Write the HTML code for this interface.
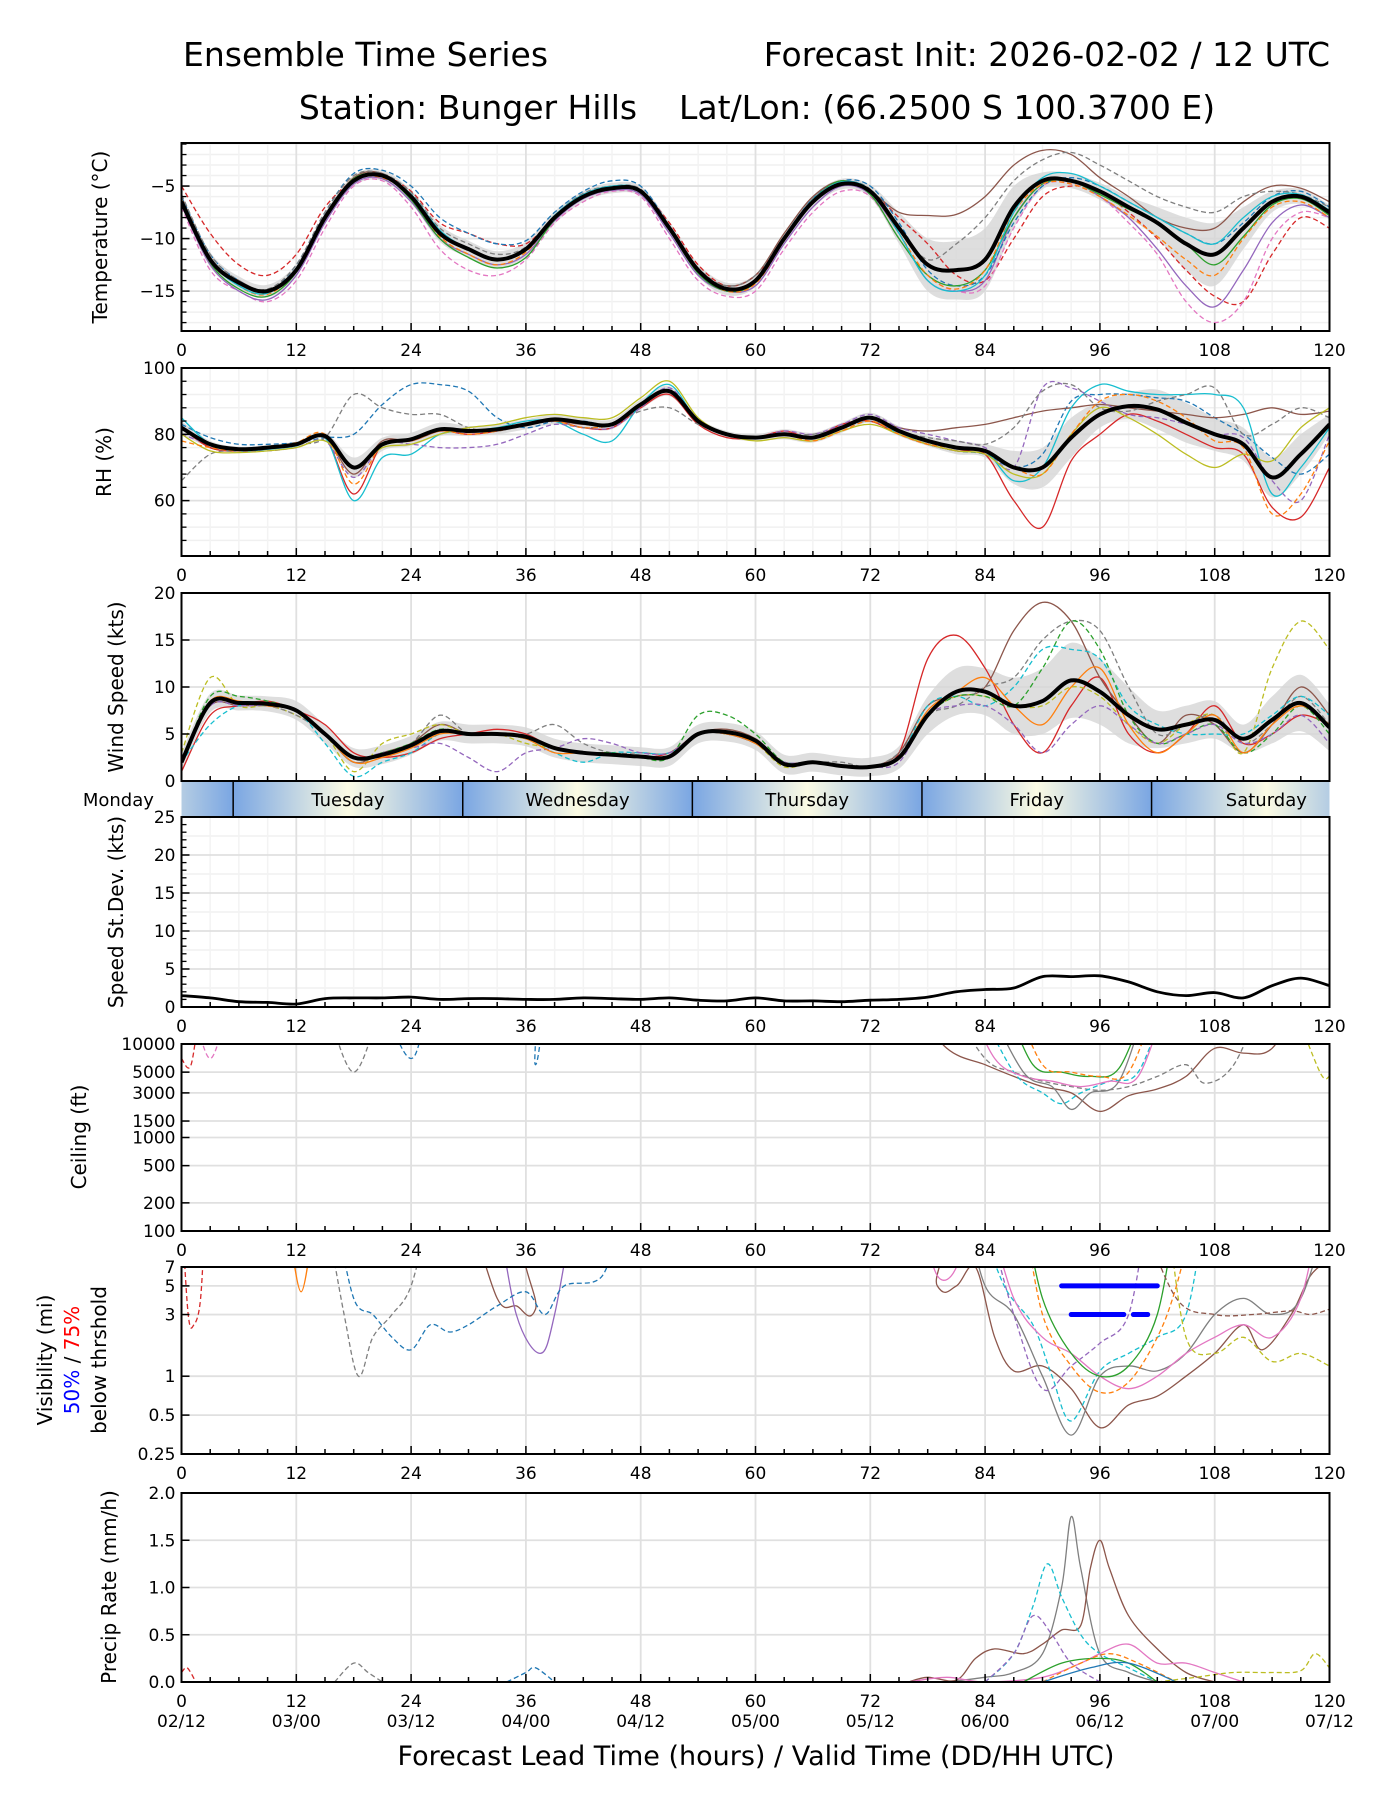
<!DOCTYPE html>
<html><head><meta charset="utf-8"><title>Ensemble Time Series</title>
<style>
html,body{margin:0;padding:0;background:#fff;}
svg{display:block;font-family:"DejaVu Sans","Liberation Sans",sans-serif;}
</style></head>
<body>
<svg id="chart" width="1400" height="1800" viewBox="0 0 1400 1800" xmlns="http://www.w3.org/2000/svg">
<defs>
<linearGradient id="dayGrad" gradientUnits="userSpaceOnUse" x1="0" y1="0" x2="1400" y2="0"></linearGradient>
</defs>
<text x="183" y="66" font-size="33">Ensemble Time Series</text>
<text x="1330" y="66" font-size="33" text-anchor="end">Forecast Init: 2026-02-02 / 12 UTC</text>
<text x="757" y="119" font-size="33" text-anchor="middle" xml:space="preserve">Station: Bunger Hills    Lat/Lon: (66.2500 S 100.3700 E)</text>
<text x="756" y="1765" font-size="27" text-anchor="middle">Forecast Lead Time (hours) / Valid Time (DD/HH UTC)</text>
<g id="layer"></g>
</svg>
<script>
// ---------- Data ----------
const hours3 = [0,3,6,9,12,15,18,21,24,27,30,33,36,39,42,45,48,51,54,57,60,63,66,69,72,75,78,81,84,87,90,93,96,99,102,105,108,111,114,117,120];
const xTicks = [0,12,24,36,48,60,72,84,96,108,120];
const dateLabels = ["02/12","03/00","03/12","04/00","04/12","05/00","05/12","06/00","06/12","07/00","07/12"];
const dayNames = ["Monday","Tuesday","Wednesday","Thursday","Friday","Saturday"];
const dayNoonHours = [-6.6,17.4,41.4,65.4,89.4,113.4];
const dayBoundaryHours = [5.4,29.4,53.4,77.4,101.4];

const tempMean = [-6.5,-12,-14.2,-15,-13,-8,-4.5,-4,-6,-9.5,-11,-12,-11,-8,-6,-5.2,-5.5,-9,-13,-14.8,-14,-10,-6.5,-4.8,-5.5,-9,-12.5,-13,-12,-7,-4.5,-4.5,-5.5,-7,-8.5,-10.5,-11.5,-9,-6.5,-6,-7.5];
const tempSpread = [0.5,0.7,0.6,0.6,0.6,0.5,0.5,0.5,0.6,0.8,0.8,0.8,0.7,0.6,0.5,0.5,0.5,0.6,0.6,0.6,0.6,0.6,0.6,0.5,0.6,1.5,2.5,2.8,3,2,0.8,0.7,0.8,1,1.5,2.5,3,2,1,0.7,0.7];
const tempM1 = [-5,-9.5,-12.5,-13.5,-11.5,-7,-4.5,-4,-5.5,-8.5,-9.5,-10.5,-10.5,-8,-6,-5,-5.5,-8.5,-12.5,-14.5,-13.5,-10,-6.5,-4.8,-5.5,-8,-10.5,-13.5,-14,-10,-6,-5,-5.5,-7.5,-10,-13,-15.5,-16,-11.5,-8,-9];
const tempM2 = [-6,-12,-14,-15,-13,-8,-4.2,-3.8,-6,-9.5,-11,-12,-11,-7.8,-5.8,-5,-5.5,-9,-13,-14.5,-13.5,-9.5,-6,-4.5,-5.5,-7.5,-7.8,-7.7,-6,-3,-1.6,-2,-4.2,-6,-8,-9,-9,-6.5,-5,-5.2,-6.5];
const tempM3 = [-7,-13,-15,-16,-14,-9,-5,-4.5,-7,-11,-13,-13.5,-12,-8.5,-6.5,-5.5,-6,-10,-14,-15.5,-15,-11,-7.5,-5.5,-6,-10,-13.5,-15,-14.5,-9,-5,-4.8,-6,-8.5,-11.5,-16,-18,-16,-10,-7.5,-8];
const tempM4 = [-6.8,-12.5,-15,-15.8,-13.5,-8.5,-4.8,-4.3,-6.5,-10,-11.5,-12.5,-11.5,-8.3,-6.2,-5.4,-5.8,-9.5,-13.5,-15,-14.5,-10.5,-7,-5,-5.8,-9.5,-14,-15,-14,-8,-4.8,-4.5,-6,-8,-11,-14.5,-16.5,-13,-8.5,-6.8,-8];
const tempM5 = [-6,-11.5,-14,-15,-12.5,-7.5,-3.8,-3.5,-5,-8,-9.5,-10.5,-10.2,-7.5,-5.5,-4.5,-5,-8.8,-13,-15,-14,-9.8,-6.2,-4.5,-5,-8.5,-13,-14.5,-13.5,-8.5,-5,-4.2,-5,-6.5,-8,-9.5,-10.5,-8.5,-6,-5.5,-7];
const tempM6 = [-6.5,-12.3,-14.8,-15.5,-13.2,-8,-4.3,-4,-6.3,-10,-11.8,-12.8,-11.8,-8.2,-6,-5.3,-5.6,-9.2,-13.3,-15,-14.2,-10,-6.3,-4.5,-5.8,-10,-13.5,-14.5,-13,-8,-4.8,-4.6,-5.8,-7.2,-8.5,-10.5,-12.5,-9.8,-6.8,-6.2,-7.8];
const tempM7 = [-5.8,-11.5,-14,-14.8,-12.5,-7.5,-4,-3.8,-5.6,-9,-10.5,-11.5,-10.8,-7.8,-5.7,-5,-5.3,-8.8,-12.8,-14.5,-13.5,-9.8,-6.2,-4.6,-5.3,-9,-12,-10.5,-8,-4.5,-2.5,-1.8,-3,-4.5,-6,-7,-7.5,-6,-5.5,-5.8,-7];
const tempM8 = [-6.2,-11.8,-14.5,-15.3,-13,-8,-4.5,-4.2,-6,-9.8,-11.5,-12.5,-11.3,-8,-6,-5.3,-5.5,-9,-13,-15,-14.3,-10.2,-6.5,-4.7,-5.5,-9.5,-13.5,-14.8,-13,-7.5,-4.8,-4.8,-6,-7.8,-9.8,-12,-13.5,-10,-7,-6.5,-8];
const tempM9 = [-6.3,-12,-14.5,-15.2,-12.8,-7.8,-4.4,-4,-5.8,-9.2,-11,-12,-11,-7.8,-5.8,-5,-5.4,-8.9,-13,-14.8,-13.9,-9.8,-6.3,-4.6,-5.4,-9.5,-14,-15,-13.5,-7.5,-4.2,-3.8,-5,-6.5,-8,-9.5,-10.5,-8,-6,-5.8,-7.3];

const rhMean = [82,77,75.5,76,77,79.5,70,77,78.5,81.5,81,81.5,83,84.5,83.5,83,89,93,84,80,79,80,79,82,85,81,78,76,75,70,70,79,86,88.5,87.5,83.5,80,77,67,74,83];
const rhSpread = [2,1,0.8,0.8,0.8,1,3,2,2,2,1.5,1.5,1.5,1.5,1.5,1.5,1.5,1.5,1,1,1,1.5,1.5,1.5,1.5,1.5,1.5,2,2,5,6,6,4,4,6,6,5,5,6,6,3];
const rhM1 = [83,79,77,77,77.5,79,80,89,95,95,93,85,82,84,84,83,89,93,84,80,79,80,79,82,84,80,77,75,74,70,74,90,92,92,91,90,85,80,73,68,74];
const rhM2 = [82,76,75,76,77,79,68,78,78,81,81,81,83,84,83,83,89,93,84,80,79,80,79,82,85,82,81,82,83,85,87,88,89,88,87,86,85,86,88,86,87];
const rhM3 = [82,76,75,76,77,79,62,77,78,81,80,81,83,84,82,82,88,92,83,79,79,81,79,83,84,80,77,75,74,60,52,72,80,86,84,80,76,74,58,55,70];
const rhM4 = [85,77,75,75.5,76.5,79,60,73,74,80,81,82,84,84,80,78,89,95,84,80,79,80,79,82,85,80,78,76,75,66,70,88,95,93,92,92,92,88,62,70,82];
const rhM5 = [80,77,75,75,76,78,67,77,77,76,76,77,80,83,82,82,88,94,84,80,79,81,80,83,86,82,80,78,76,70,94,94,90,86,85,83,80,79,66,60,80];
const rhM6 = [66,74,75,76,77,79,92,88,86,86,82,81,83,84,82,83,87,88,83,80,79,80,80,82,84,81,79,78,77,82,93,95,88,87,90,92,94,80,83,88,85];
const rhM7 = [80,75,74.5,75,76,78,70,76,77,80,82,83,85,86,85,85,91,96,85,80,78,79,78,81,83,80,77,75,74,68,68,80,88,85,80,74,70,74,72,82,88];
const rhM8 = [78,76,75,76,77.5,80,65,77,78,81,80,81,83,84,82,83,89,93,84,80,79,80,78,81,84,80,77,76,75,70,68,80,90,92,90,85,78,76,56,62,78];

const windMean = [2,8.3,8.3,8.2,7.5,5,2.5,2.8,3.8,5.3,5,5,4.7,3.5,3,2.8,2.6,2.6,5,5.2,4.3,1.8,2,1.6,1.5,2.5,7,9.5,9.5,8,8.5,10.7,9.5,7,5.5,6,6.5,4.5,6.5,8.3,5.7];
const windSpread = [1,1,0.8,0.8,1,1,1,1,1,1,1,1,1,1,1,1,1,1,1,1,1,1,1,1,1,1.2,2,2.5,2.5,3,3.5,4,3.5,3,2,2,2,1.5,2.5,3,2.5];
const windM1 = [1,7,8,8.5,7.5,6,3,2.5,3,4.5,5,5.5,5,3.5,3,3,2.5,3,5,5,4,2,2,1.5,1.5,3,13,15.5,12,6,3,8,11,5,3,5,8,4,5,7,6];
const windM2 = [2,8,8,8,7.5,5,2,3,4,6,5,5,4.5,3.5,3,3,2.5,2.5,5,5.5,4.5,2,2,1.5,1.5,3,8,9,10,16,19,17,11,7,4,7,6,3,6,10,7];
const windM3 = [3,11,8,8,7,5,1,4,5,6,5,5,4,3.5,3,3,2.5,2.5,5,5,4,1.5,2,1.5,1.5,2.5,7,9,9,8,8,10,9,6,4,6,7,3,12,17,14];
const windM4 = [2,8,8,8,7,5,2,3,4,7,5,5,5,6,4,3,3,3,5,5,4,2,2,2,1.5,3,7,8,10,11,15,17,16,10,5,6,7,4,6,9,6];
const windM5 = [2,6,8,8,7.5,4,0.5,2,3,5,5,5,4.5,3,2,3,3,3,5,5,4,2,2,1.5,1.5,2.5,8,9,8,10,14,14,13,8,6,5,5,5,7,9,7];
const windM6 = [2,9,9,8.5,7.5,5,2.5,3,4,5.5,5,5,4.5,3.5,3,3,2.5,2.5,7,7,5,2,2,1.5,1.5,2.5,7,9,9,8,12,17,14,7,4,5,6,3,5,8,5];
const windM7 = [2,8,8,8,7.5,5,2.5,3,3.5,4,2.5,1,3,3.5,4.5,4,3,3,5,5,4,2,2,1.5,1.5,2,7,8,8,6,3,6,8,6,4,5,6,4,5,7,4];
const windM8 = [2,8.5,8.5,8,7.5,5,2,2.5,3.5,5,5,5,4.5,3,3,2.8,2.5,2.5,5,5,4,1.8,2,1.5,1.5,2.5,7.5,9.5,11,8,6,10,12,6,3,5,7,3,6,8,6];

const stdevMean = [1.5,1.2,0.7,0.6,0.4,1.1,1.2,1.2,1.3,1.0,1.1,1.1,1.0,1.0,1.2,1.1,1.0,1.2,0.9,0.8,1.2,0.8,0.8,0.7,0.9,1.0,1.3,2.0,2.3,2.5,4.0,4.0,4.1,3.3,2.0,1.5,1.9,1.2,2.8,3.8,2.8];

// ceiling members (hours / feet); 30000 = above chart top
const ceilH1=[76,80,84,87,90,93,96,99,102,105,108,111,114,117], ceilV1=[30000,9000,6000,4500,3500,3000,1900,2800,3300,4500,9000,8000,9000,30000];
const ceilH2=[15,18,21], ceilV2=[30000,5000,30000];
const ceilH3=[80,84,87,90,93,96,99,102,105,107,110,113], ceilV3=[30000,7000,5000,4000,3500,3200,3500,4500,6000,3800,6000,30000];
const ceilH4=[83,87,90,92,94,97,100,103], ceilV4=[30000,5000,3000,2300,3000,4000,5000,30000];
const ceilH5=[86,89,92,95,98,101], ceilV5=[30000,6000,5000,4500,5500,30000];
const ceilH6=[82,85,88,91,94,97,100,103], ceilV6=[30000,7000,4500,4000,3500,4000,4500,30000];
const ceilH7=[21,24,27,36,37,38], ceilV7=[30000,7000,30000,30000,6000,30000];
const ceilH8=[116,119,120], ceilV8=[30000,5000,4500];
const ceilH9=[0,1,2], ceilV9=[7000,6000,30000];
const ceilH10=[1,3,5], ceilV10=[30000,7000,30000];
const ceilH11=[84,88,91,93,95,98,101], ceilV11=[30000,5000,3500,2000,3000,4000,30000];
const ceilH12=[87,90,93,96,99,102], ceilV12=[30000,6000,5000,4500,5000,30000];

// visibility members (hours / miles); 20 = above chart top
const visH1=[30,33,35,37,39,76,79,81,83,85,87,90,93,96,99,102,105,108,111,113,116,118,120], visV1=[20,4,3.5,3.3,20,20,5,5,7,2,1.1,1.2,0.8,0.4,0.6,0.7,1,1.5,2.5,1.6,3,6,8];
const visH2=[82,84,87,90,93,96,99,102,105,108,111,114,117,120], visV2=[20,5,3,1,0.35,1,1.2,1.1,1.5,3,4,3,4,20];
const visH3=[83,86,89,91,93,96,99,102,105,107], visV3=[20,5,2.5,1,0.45,1.1,1.5,2,3,20];
const visH4=[33,35,37.5,39,41], visV4=[20,3,1.5,3,20];
const visH5=[84,87,90,93,96,99,101], visV5=[20,3,0.8,1.2,1.8,3,20];
const visH6=[16,18,20,22,24,26,28,30,33,36,38,40,44,46], visV6=[20,4,3,2,1.6,2.5,2.2,2.5,3.5,4.5,3,5,6,20];
const visH7=[15,17,18.5,20,22,24,26], visV7=[20,3,1,2,3,5,20];
const visH8=[88,90,93,96,99,102,104,106], visV8=[20,3,1.2,0.75,0.9,2,5,20];
const visH9=[77,79,81,82,84,87,90,93,96,99,102,105,108,111,114,117,119], visV9=[20,6,7,20,20,4,2,1.5,1,0.8,1,1.5,2,2.5,2,4,20];
const visH10=[103,105,108,111,114,117,120], visV10=[20,2,1.5,2,1.3,1.5,1.2];
const visH11=[88,90,93,96,99,102,104], visV11=[20,4,1.5,1,1.2,3,20];
const visH12=[0,0.7,1.3,2,2.5], visV12=[20,3,2.5,4,20];
const visH13=[11,12.5,14], visV13=[20,4.5,20];
const visH14=[100,104,108,112,116,118,120], visV14=[20,4,3,3,3.2,3,3.3];
const thr50Hours=[92,102], thr50Value=5;
const thr75Hours=[93,98.5,99.5,101], thr75Value=3;

// precip members
const prH1=[80,84,87,90,92,93,94,96,99,102], prV1=[0,0.05,0.1,0.3,1.0,1.75,1.2,0.3,0.1,0];
const prH2=[76,78,81,83,85,88,90,92,94,95,96,97,99,102,105,108], prV2=[0,0.05,0.02,0.25,0.35,0.3,0.4,0.55,0.6,1.2,1.5,1.2,0.7,0.35,0.1,0];
const prH3=[84,87,89,90.5,92,94,96,99,102], prV3=[0,0.3,0.8,1.25,0.9,0.5,0.3,0.15,0];
const prH4=[84,87,89,91,93,96], prV4=[0,0.3,0.7,0.5,0.2,0];
const prH5=[76,80,84,90,94,96,99,102,105,108,111], prV5=[0,0.05,0,0.05,0.2,0.3,0.4,0.2,0.2,0.1,0];
const prH6=[102,106,110,114,117,118.5,120], prV6=[0,0.05,0.1,0.1,0.12,0.3,0.15];
const prH7=[16,18,19.5,21], prV7=[0,0.2,0.1,0];
const prH8=[34,36,37,39], prV8=[0,0.1,0.15,0];
const prH9=[88,92,96,99,102], prV9=[0,0.2,0.25,0.2,0];
const prH10=[90,94,97,100,104], prV10=[0,0.2,0.3,0.2,0];
const prH11=[0,0.6,1.5], prV11=[0.1,0.15,0];
const prH12=[90,95,99,104], prV12=[0,0.15,0.2,0];

// ---------- Rendering ----------
const NS="http://www.w3.org/2000/svg";
const layer=document.getElementById('layer');
const X0=181.5, X1=1329.5;
function sx(h){return X0+(h/120)*(X1-X0);}
function mk(tag,attrs,parent){const e=document.createElementNS(NS,tag);for(const k in attrs)e.setAttribute(k,attrs[k]);(parent||layer).appendChild(e);return e;}
function smooth(pts){
  let d=`M${pts[0][0].toFixed(1)},${pts[0][1].toFixed(1)}`;
  for(let i=0;i<pts.length-1;i++){
    const p0=pts[i-1]||pts[i],p1=pts[i],p2=pts[i+1],p3=pts[i+2]||p2;
    const c1x=p1[0]+(p2[0]-p0[0])/6,c1y=p1[1]+(p2[1]-p0[1])/6;
    const c2x=p2[0]-(p3[0]-p1[0])/6,c2y=p2[1]-(p3[1]-p1[1])/6;
    d+=`C${c1x.toFixed(1)},${c1y.toFixed(1)} ${c2x.toFixed(1)},${c2y.toFixed(1)} ${p2[0].toFixed(1)},${p2[1].toFixed(1)}`;
  }
  return d;
}
function makePanel(p){
  const y=v=>{
    if(p.log){return p.bot-(Math.log(v)-Math.log(p.ymin))/(Math.log(p.ymax)-Math.log(p.ymin))*(p.bot-p.top);}
    return p.bot-(v-p.ymin)/(p.ymax-p.ymin)*(p.bot-p.top);
  };
  p.y=y;
  const g=mk('g',{});
  
  
  const cid='clip-'+p.name;
  const cp=mk('clipPath',{id:cid},g);mk('rect',{x:X0,y:p.top,width:X1-X0,height:p.bot-p.top},cp);
  if(p.minorY){for(const v of p.minorY){const yy=y(v);mk('line',{x1:X0,x2:X1,y1:yy,y2:yy,stroke:'#f0f0f0','stroke-width':1.5},g);}}
  if(p.minorX){for(let h=3;h<120;h+=3){if(h%12)mk('line',{x1:sx(h),x2:sx(h),y1:p.top,y2:p.bot,stroke:'#f3f3f3','stroke-width':1.5},g);}}
  for(const h of xTicks){mk('line',{x1:sx(h),x2:sx(h),y1:p.top,y2:p.bot,stroke:'#e0e0e0','stroke-width':1.8},g);}
  for(const v of p.ticks){const yy=y(v);mk('line',{x1:X0,x2:X1,y1:yy,y2:yy,stroke:'#e0e0e0','stroke-width':1.8},g);}
  const data=mk('g',{'clip-path':`url(#${cid})`},g);
  p.data=data;
  p.frame=()=>{
    mk('rect',{x:X0,y:p.top,width:X1-X0,height:p.bot-p.top,fill:'none',stroke:'#000','stroke-width':2},g);
    for(let h=0;h<=120;h+=3){const L=h%12?5:8;mk('line',{x1:sx(h),x2:sx(h),y1:p.bot,y2:p.bot-L,stroke:'#000','stroke-width':1.5},g);}
    if(p.minorTickY){for(const v of p.minorTickY){const yy=y(v);mk('line',{x1:X0,x2:X0+5,y1:yy,y2:yy,stroke:'#000','stroke-width':1.3},g);}}
    p.ticks.forEach((v,i)=>{const yy=y(v);mk('line',{x1:X0,x2:X0+8,y1:yy,y2:yy,stroke:'#000','stroke-width':1.5},g);
      const t=mk('text',{x:X0-6,y:yy+6,'font-size':17,'text-anchor':'end'},g);t.textContent=p.tickLabels[i];
      
      });
    if(!p.noXLabels){
    xTicks.forEach(h=>{const t=mk('text',{x:sx(h),y:p.bot+25,'font-size':17,'text-anchor':'middle'},g);t.textContent=String(h);
      
      });
    }
  };
  return p;
}
function drawBand(p,mean,spread){
  const up=hours3.map((h,i)=>[sx(h),p.y(mean[i]+spread[i])]);
  const lo=hours3.map((h,i)=>[sx(h),p.y(mean[i]-spread[i])]).reverse();
  const d=smooth(up)+' L'+lo[0][0]+','+lo[0][1]+smooth(lo).replace(/^M[^C]*/,'')+'Z';
  const e=mk('path',{d:d,fill:'#d6d6d6','fill-opacity':0.8,stroke:'none'},p.data);
  
  
}
function drawLine(p,hs,vs,color,dashed,width,name){
  const pts=hs.map((h,i)=>[sx(h),p.y(vs[i])]);
  const e=mk('path',{d:smooth(pts),fill:'none',stroke:color,'stroke-width':width||1.3,'stroke-dasharray':dashed?'5,3':'none','stroke-linejoin':'round'},p.data);
  
  
  return e;
}
function ylabel(x,yc,text,name,size){
  const t=mk('text',{x:x,y:yc,'font-size':size||20,'text-anchor':'middle',transform:`rotate(-90 ${x} ${yc})`});
  t.textContent=text;
  
  
  return t;
}
const C={blue:'#1f77b4',orange:'#ff7f0e',green:'#2ca02c',red:'#d62728',purple:'#9467bd',brown:'#8c564b',pink:'#e377c2',gray:'#7f7f7f',olive:'#bcbd22',cyan:'#17becf'};

// Temperature
const tP=makePanel({name:'temperature',top:143,bot:331,ymin:-18.8,ymax:-0.9,ticks:[-5,-10,-15],tickLabels:['\u22125','\u221210','\u221215'],
  minorY:[-18,-17,-16,-14,-13,-12,-11,-9,-8,-7,-6,-4,-3,-2,-1],minorTickY:[-18,-17,-16,-14,-13,-12,-11,-9,-8,-7,-6,-4,-3,-2,-1],minorX:true});
drawBand(tP,tempMean,tempSpread);
[[tempM1,C.red,1],[tempM2,C.brown,0],[tempM3,C.pink,1],[tempM4,C.purple,0],[tempM5,C.blue,1],[tempM6,C.green,0],[tempM7,C.gray,1],[tempM8,C.orange,1],[tempM9,C.cyan,0]]
 .forEach((m,i)=>drawLine(tP,hours3,m[0],m[1],m[2],1.3,'temperature-member-'+(i+1)));
drawLine(tP,hours3,tempMean,'#000',0,4,'temperature-ensemble-mean');
tP.frame();
ylabel(107,237,'Temperature (°C)','temperature-y-axis-title');

// RH
const rP=makePanel({name:'rh',top:368,bot:556,ymin:43.3,ymax:100,ticks:[60,80,100],tickLabels:['60','80','100'],
  minorY:[48,52,56,64,68,72,76,84,88,92,96],minorTickY:[48,52,56,64,68,72,76,84,88,92,96],minorX:true});
drawBand(rP,rhMean,rhSpread);
[[rhM1,C.blue,1],[rhM2,C.brown,0],[rhM3,C.red,0],[rhM4,C.cyan,0],[rhM5,C.purple,1],[rhM6,C.gray,1],[rhM7,C.olive,0],[rhM8,C.orange,1]]
 .forEach((m,i)=>drawLine(rP,hours3,m[0],m[1],m[2],1.3,'rh-member-'+(i+1)));
drawLine(rP,hours3,rhMean,'#000',0,4,'rh-ensemble-mean');
rP.frame();
ylabel(111,462,'RH (%)','rh-y-axis-title');

// Wind
const wP=makePanel({name:'wind',top:593,bot:781,ymin:0,ymax:20,ticks:[0,5,10,15,20],tickLabels:['0','5','10','15','20'],noXLabels:true});
drawBand(wP,windMean,windSpread);
[[windM1,C.red,0],[windM2,C.brown,0],[windM3,C.olive,1],[windM4,C.gray,1],[windM5,C.cyan,1],[windM6,C.green,1],[windM7,C.purple,1],[windM8,C.orange,0]]
 .forEach((m,i)=>drawLine(wP,hours3,m[0],m[1],m[2],1.3,'wind-member-'+(i+1)));
drawLine(wP,hours3,windMean,'#000',0,4,'wind-ensemble-mean');
wP.frame();
ylabel(123,687,'Wind Speed (kts)','wind-y-axis-title');

// Day band
(function(){
  const grad=document.getElementById('dayGrad');
  const stops=[];
  for(let k=-1;k<6;k++){stops.push([5.4+24*k,'#7aa6e3']);stops.push([17.4+24*k,'#fbfbe3']);}
  const a=sx(-18.6),b=sx(125.4);
  grad.setAttribute('x1',a);grad.setAttribute('x2',b);
  stops.forEach(s=>{const off=(sx(s[0])-a)/(b-a);if(off<0||off>1)return;mk('stop',{offset:off.toFixed(4),'stop-color':s[1]},grad);});
  const g=mk('g',{});
  
  
  mk('rect',{x:X0,y:782,width:X1-X0,height:35,fill:'url(#dayGrad)'},g);
  dayBoundaryHours.forEach(h=>{const l=mk('line',{x1:sx(h),x2:sx(h),y1:782,y2:817,stroke:'#000','stroke-width':1.5},g);
    
    });
  dayNames.forEach((n,i)=>{const t=mk('text',{x:sx(dayNoonHours[i]),y:806,'font-size':18,'text-anchor':'middle'},g);t.textContent=n;
    
    });
})();

// Stdev
const sP=makePanel({name:'stdev',top:817,bot:1007,ymin:0,ymax:25,ticks:[0,5,10,15,20,25],tickLabels:['0','5','10','15','20','25'],
  minorY:[2.5,7.5,12.5,17.5,22.5],minorTickY:[1,2,3,4,6,7,8,9,11,12,13,14,16,17,18,19,21,22,23,24],minorX:true});
drawLine(sP,hours3,stdevMean,'#000',0,2.8,'speed-stdev-line');
sP.frame();
ylabel(123,912,'Speed St.Dev. (kts)','stdev-y-axis-title');

// Ceiling
const cP=makePanel({name:'ceiling',top:1044,bot:1231,ymin:100,ymax:10000,log:true,ticks:[100,200,500,1000,1500,3000,5000,10000],tickLabels:['100','200','500','1000','1500','3000','5000','10000']});
[[ceilH1,ceilV1,C.brown,0],[ceilH2,ceilV2,C.gray,1],[ceilH3,ceilV3,C.gray,1],[ceilH4,ceilV4,C.cyan,1],[ceilH5,ceilV5,C.green,0],[ceilH6,ceilV6,C.pink,0],
 [ceilH7,ceilV7,C.blue,1],[ceilH8,ceilV8,C.olive,1],[ceilH9,ceilV9,C.red,1],[ceilH10,ceilV10,C.pink,1],[ceilH11,ceilV11,C.gray,0],[ceilH12,ceilV12,C.orange,1]]
 .forEach((m,i)=>drawLine(cP,m[0],m[1],m[2],m[3],1.3,'ceiling-member-'+(i+1)));
cP.frame();
ylabel(86,1137,'Ceiling (ft)','ceiling-y-axis-title');

// Visibility
const vP=makePanel({name:'visibility',top:1267,bot:1454,ymin:0.25,ymax:7,log:true,ticks:[0.25,0.5,1,3,5,7],tickLabels:['0.25','0.5','1','3','5','7']});
[[visH1,visV1,C.brown,0],[visH2,visV2,C.gray,0],[visH3,visV3,C.cyan,1],[visH4,visV4,C.purple,0],[visH5,visV5,C.purple,1],[visH6,visV6,C.blue,1],[visH7,visV7,C.gray,1],
 [visH8,visV8,C.orange,1],[visH9,visV9,C.pink,0],[visH10,visV10,C.olive,1],[visH11,visV11,C.green,0],[visH12,visV12,C.red,1],[visH13,visV13,C.orange,0],[visH14,visV14,C.brown,1]]
 .forEach((m,i)=>drawLine(vP,m[0],m[1],m[2],m[3],1.3,'visibility-member-'+(i+1)));
(function(){
  const a=mk('line',{x1:sx(thr50Hours[0]),x2:sx(thr50Hours[1]),y1:vP.y(thr50Value),y2:vP.y(thr50Value),stroke:'#0000ff','stroke-width':5,'stroke-linecap':'round'},vP.data);
  
  
  for(let i=0;i<thr75Hours.length;i+=2){
    const b=mk('line',{x1:sx(thr75Hours[i]),x2:sx(thr75Hours[i+1]),y1:vP.y(thr75Value),y2:vP.y(thr75Value),stroke:'#0000ff','stroke-width':5,'stroke-linecap':'round'},vP.data);
    
    
  }
})();
vP.frame();
ylabel(52,1360,'Visibility (mi)','visibility-y-axis-title');
(function(){
  const x=79,yc=1360;
  const t=mk('text',{x:x,y:yc,'font-size':20,'text-anchor':'middle',transform:`rotate(-90 ${x} ${yc})`});
  
  
  const s1=mk('tspan',{fill:'#0000ff'},t);s1.textContent='50%';
  const s2=mk('tspan',{fill:'#000'},t);s2.textContent=' / ';
  const s3=mk('tspan',{fill:'#ff0000'},t);s3.textContent='75%';
})();
ylabel(106,1360,'below thrshold','visibility-threshold-caption');

// Precip
const pP=makePanel({name:'precip',top:1493,bot:1682,ymin:0,ymax:2,ticks:[0,0.5,1,1.5,2],tickLabels:['0.0','0.5','1.0','1.5','2.0']});
[[prH1,prV1,C.gray,0],[prH2,prV2,C.brown,0],[prH3,prV3,C.cyan,1],[prH4,prV4,C.purple,1],[prH5,prV5,C.pink,0],[prH6,prV6,C.olive,1],
 [prH7,prV7,C.gray,1],[prH8,prV8,C.blue,1],[prH9,prV9,C.green,0],[prH10,prV10,C.orange,1],[prH11,prV11,C.red,1],[prH12,prV12,C.blue,0]]
 .forEach((m,i)=>drawLine(pP,m[0],m[1],m[2],m[3],1.3,'precip-member-'+(i+1)));
pP.frame();
ylabel(116,1587,'Precip Rate (mm/h)','precip-y-axis-title');
xTicks.forEach((h,i)=>{const t=mk('text',{x:sx(h),y:1727,'font-size':17,'text-anchor':'middle'});t.textContent=dateLabels[i];
  
  });
</script>
</body></html>
